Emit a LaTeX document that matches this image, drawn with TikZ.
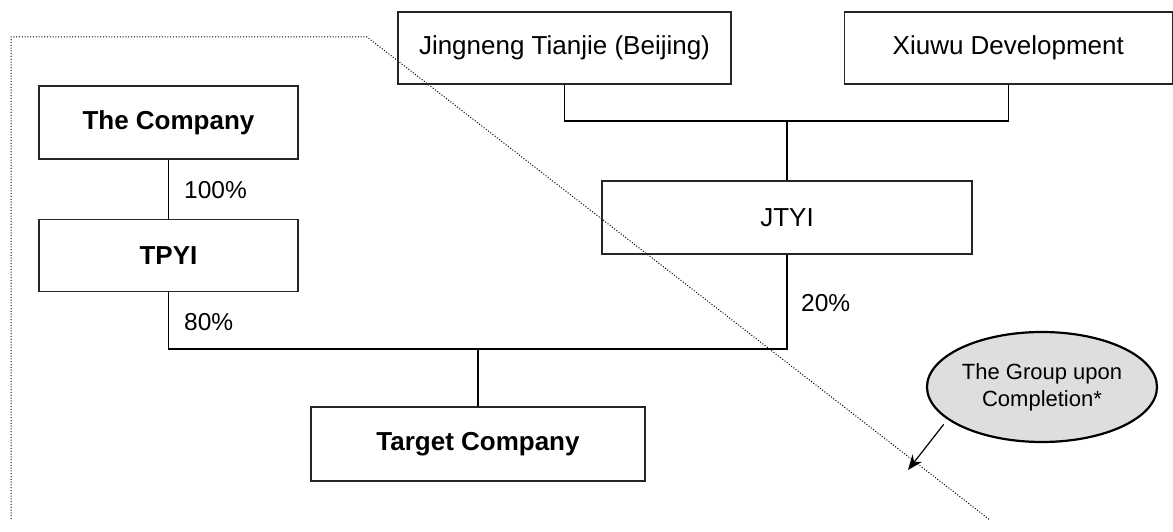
\documentclass[tikz,border=0pt]{standalone}
\usepackage{fontspec}
\setmainfont{Liberation Sans}
\usetikzlibrary{arrows.meta,positioning,shapes.geometric}

\begin{document}
\begin{tikzpicture}[x=1pt, y=1pt, node distance=59pt]
\tikzset{
    holder/.style={rectangle, draw=black!85, line width=1.3pt, inner sep=0pt, text centered, font=\fontsize{26}{31}\selectfont},
    mainholder/.style={holder, font=\fontsize{26}{31}\selectfont\bfseries},
    share/.style={anchor=west, inner sep=0pt, font=\fontsize{24.5}{29}\selectfont},
    link/.style={line width=1.2pt},
    groupnote/.style={ellipse, draw=black, line width=2.2pt, fill=black!13, align=center, inner sep=0pt, minimum width=230pt, minimum height=110pt, font=\fontsize{22}{27}\selectfont},
    myarrow/.style={-{Stealth[length=15pt,width=12pt]}, line width=1.2pt},
    boundary/.style={draw=black, line width=1pt, dash pattern=on 1pt off 1.8pt}
}
\useasboundingbox (0,0) rectangle (1173,531);

% group boundary upon completion
\draw[boundary] (11,12) -- (11,494) -- (367,494) -- (990,11);

\node[holder, minimum width=333pt, minimum height=72pt] (jingneng) at (564.5,483) {Jingneng Tianjie (Beijing)};
\node[holder, minimum width=328pt, minimum height=72pt, right=112pt of jingneng] (xiuwu) {Xiuwu Development};
\node[holder, minimum width=370pt, minimum height=73pt] (jtyi) at (787,313.5) {JTYI};
\node[mainholder, minimum width=259pt, minimum height=73pt] (company) at (168.5,408.5) {The Company};
\node[mainholder, minimum width=259pt, minimum height=72pt, below=of company] (tpyi) {TPYI};
\node[mainholder, minimum width=334pt, minimum height=74pt] (target) at (478,87) {Target Company};
\node[groupnote] (group) at (1042,144) {The Group upon\\Completion*};

\coordinate (topbar) at (787,410);
\coordinate (lowbar) at (478,182);
\coordinate (edge) at (908,61);

\draw[link] (jingneng.south) |- (xiuwu.south |- topbar) -- (xiuwu.south);
\draw[link] (topbar) -- (jtyi.north);
\draw[link] (company.south) -- (tpyi.north);
\draw[link] (tpyi.south) |- (jtyi.south |- lowbar) -- (jtyi.south);
\draw[link] (lowbar) -- (target.north);

\node[share] (pct100) at (184,341) {100\%};
\node[share] (pct80) at (184,209) {80\%};
\node[share] (pct20) at (801,228) {20\%};

\draw[myarrow, shorten <=6pt] (group.199) -- (edge);

\end{tikzpicture}
\end{document}
